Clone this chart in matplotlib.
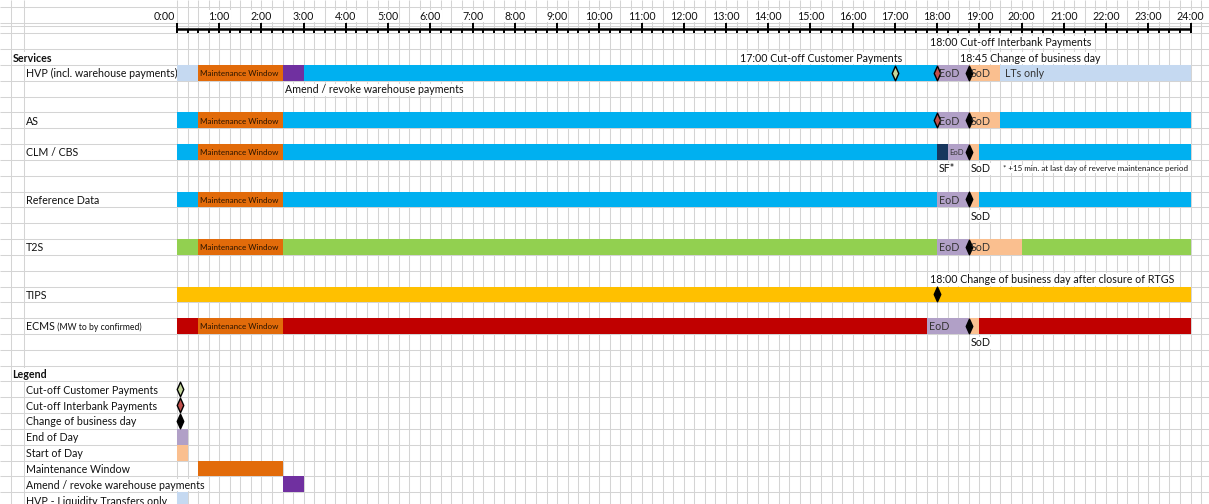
import matplotlib
matplotlib.use('Agg')
import matplotlib.pyplot as plt
from matplotlib.path import Path

plt.rcParams['font.family'] = ['Lato', 'DejaVu Sans']

# ---- data ----
hours = list(range(0, 25))
hour_labels = ['%d:00' % h for h in hours]

services = ['HVP (incl. warehouse payments)', 'AS', 'CLM / CBS', 'Reference Data',
            'T2S', 'TIPS', 'ECMS']

# (start hour, end hour, kind)
hvp_blocks = [(0, 0.5, 'lt'), (0.5, 2.5, 'mw'), (2.5, 3, 'amend'), (3, 18, 'rtgs'),
              (18, 18.75, 'eod'), (18.75, 19.5, 'sod'), (19.5, 24, 'lt')]
as_blocks = [(0, 0.5, 'rtgs'), (0.5, 2.5, 'mw'), (2.5, 18, 'rtgs'),
             (18, 18.75, 'eod'), (18.75, 19.5, 'sod'), (19.5, 24, 'rtgs')]
clm_blocks = [(0, 0.5, 'rtgs'), (0.5, 2.5, 'mw'), (2.5, 18, 'rtgs'), (18, 18.25, 'sf'),
              (18.25, 18.75, 'eod'), (18.75, 19, 'sod'), (19, 24, 'rtgs')]
ref_blocks = [(0, 0.5, 'rtgs'), (0.5, 2.5, 'mw'), (2.5, 18, 'rtgs'),
              (18, 18.75, 'eod'), (18.75, 19, 'sod'), (19, 24, 'rtgs')]
t2s_blocks = [(0, 0.5, 't2s'), (0.5, 2.5, 'mw'), (2.5, 18, 't2s'),
              (18, 18.75, 'eod'), (18.75, 20, 'sod'), (20, 24, 't2s')]
tips_blocks = [(0, 24, 'tips')]
ecms_blocks = [(0, 0.5, 'ecms'), (0.5, 2.5, 'mw'), (2.5, 17.75, 'ecms'),
               (17.75, 18.75, 'eod'), (18.75, 19, 'sod'), (19, 24, 'ecms')]
all_blocks = [hvp_blocks, as_blocks, clm_blocks, ref_blocks, t2s_blocks, tips_blocks, ecms_blocks]

# milestones (hour, kind)
hvp_marks = [(17, 'cust'), (18, 'ib'), (18.75, 'cbd')]
as_marks = [(18, 'ib'), (18.75, 'cbd')]
clm_marks = [(18.75, 'cbd')]
ref_marks = [(18.75, 'cbd')]
t2s_marks = [(18.75, 'cbd')]
tips_marks = [(18, 'cbd')]
ecms_marks = [(18.75, 'cbd')]
all_marks = [hvp_marks, as_marks, clm_marks, ref_marks, t2s_marks, tips_marks, ecms_marks]

legend_labels = ['Cut-off Customer Payments', 'Cut-off Interbank Payments',
                 'Change of business day', 'End of Day', 'Start of Day',
                 'Maintenance Window', 'Amend / revoke warehouse payments',
                 'HVP - Liquidity Transfers only']
legend_marks = ['cust', 'ib', 'cbd']
legend_blocks = [(0, 0.25, 'eod'), (0, 0.25, 'sod'), (0.5, 2.5, 'mw'),
                 (2.5, 3, 'amend'), (0, 0.25, 'lt')]

colors = {'rtgs': '#00b0f0', 'lt': '#c5d9f1', 'mw': '#e26b0a', 'amend': '#7030a0',
          'eod': '#b1a0c7', 'sod': '#fabf8f', 'sf': '#17375e', 't2s': '#92d050',
          'tips': '#ffc000', 'ecms': '#c00000'}
mark_fill = {'cust': '#c4d79b', 'ib': '#c0504d', 'cbd': 'black'}

# ---- sheet geometry (pixels of the 1209x504 sheet) ----
W, H = 1209, 504
PX0, PX24 = 177.0, 1190.5
PPH = (PX24 - PX0) / 24.0
ROW_TOP, RH = 49.2, 15.82


def ypx(p):
    return (p - ROW_TOP) / RH


def xpx(p):
    return (p - PX0) / PPH


service_rows = [1, 4, 6, 9, 12, 15, 17]
legend_row = 20

fig = plt.figure(figsize=(W / 100, H / 100), dpi=100)
ax = fig.add_axes([0, 0, 1, 1])
x_lo, x_hi = xpx(0), xpx(W)
y_top, y_bot = ypx(0), ypx(H)
ax.set_xlim(x_lo, x_hi)
ax.set_ylim(y_bot, y_top)
ax.axis('off')

grid = '#d4d4d4'
# vertical grid lines: 15 minute columns + the first two narrow columns
quarters = [q * 0.25 for q in range(0, 99)]
ax.vlines(quarters + [xpx(10.7), xpx(24.3)], y_top, y_bot, color=grid, lw=0.75, zorder=1)
# horizontal grid lines
ax.hlines([ypx(7.3), ypx(23.3), ypx(26.2)] + list(range(-1, 30)), x_lo, x_hi,
          color=grid, lw=0.75, zorder=1)

white = dict(facecolor='white', edgecolor='none', pad=0.5)
fs = 7.7
ink = '#111111'
ty = 0.56  # text centre inside a row (Excel puts text a bit low)

# time ruler
ax.hlines(ypx(29.5), 0, 24, color='black', lw=1.8, zorder=4)
ax.vlines(hours, ypx(23.5), ypx(33.5), color='black', lw=1.4, zorder=4)
ax.vlines([q * 0.25 for q in range(0, 97)], ypx(29.5), ypx(33.5), color='black', lw=1.4, zorder=4)
for h, lab in zip(hours, hour_labels):
    if h == 0:
        ax.text(xpx(175), ypx(16), lab, ha='right', va='center', fontsize=fs, color=ink,
                bbox=white, zorder=2)
    else:
        ax.text(h, ypx(16), lab, ha='center', va='center', fontsize=fs, color=ink,
                bbox=white, zorder=2)

diamond = Path([(0, 1), (0.45, 0), (0, -1), (-0.45, 0), (0, 1)],
               [Path.MOVETO, Path.LINETO, Path.LINETO, Path.LINETO, Path.CLOSEPOLY])


def draw_mark(x, row, kind):
    ax.plot([x], [row + 0.5], marker=diamond, markersize=10.5, color=mark_fill[kind],
            markeredgecolor='black', markeredgewidth=1.0, zorder=5, ls='none')


def draw_blocks(row, blocks):
    for s, e, kind in blocks:
        ax.barh(row, e - s, left=s, height=1, align='edge', color=colors[kind],
                lw=0, zorder=3)


def cell_text(x, row, s, ha='left', size=fs, color=ink, bg=True, z=2):
    ax.text(x, row + ty, s, ha=ha, va='center', fontsize=size, color=color,
            bbox=white if bg else None, zorder=z)


# services
lab_x = xpx(26)
ax.text(xpx(12.5), ty, 'Services', ha='left', va='center', fontsize=fs, color=ink,
        fontweight='bold', bbox=white, zorder=2)
for name, row, blocks, marks in zip(services, service_rows, all_blocks, all_marks):
    draw_blocks(row, blocks)
    for x, kind in marks:
        draw_mark(x, row, kind)
    if name == 'ECMS':
        t = ax.text(lab_x, row + ty, name, ha='left', va='center', fontsize=fs,
                    color=ink, zorder=2)
        ax.annotate(' (MW to by confirmed)', xycoords=t, xy=(1, 0.5), va='center',
                    fontsize=6.2, color=ink, zorder=2)
    else:
        cell_text(lab_x, row, name, bg=False)
    for s, e, kind in blocks:
        if kind == 'mw':
            cell_text(s + 0.05, row, 'Maintenance Window', size=5.8, color='#2a1400',
                      bg=False, z=6)

# texts in and around the bars
bar_text = '#333333'
for x, row, s in [(18.05, 1, 'EoD'), (18.8, 1, 'SoD'), (19.6, 1, 'LTs only'),
                  (18.05, 4, 'EoD'), (18.8, 4, 'SoD'), (18.05, 9, 'EoD'),
                  (18.05, 12, 'EoD'), (18.8, 12, 'SoD'), (17.8, 17, 'EoD')]:
    cell_text(x, row, s, color=bar_text, bg=False, z=6)
cell_text(18.28, 6, 'EoD', size=5.5, color=bar_text, bg=False, z=6)

cell_text(17.82, -1, '18:00 Cut-off Interbank Payments')
cell_text(17.18, 0, '17:00 Cut-off Customer Payments', ha='right')
cell_text(18.55, 0, '18:45 Change of business day')
cell_text(2.55, 2, 'Amend / revoke warehouse payments')
cell_text(18.03, 7, 'SF*')
cell_text(18.8, 7, 'SoD')
cell_text(19.55, 7, '* +15 min. at last day of reverve maintenance period', size=5.8)
cell_text(18.8, 10, 'SoD')
cell_text(17.82, 14, '18:00 Change of business day after closure of RTGS')
cell_text(18.8, 18, 'SoD')

# legend
ax.text(xpx(12.5), legend_row + ty, 'Legend', ha='left', va='center', fontsize=fs,
        color=ink, fontweight='bold', bbox=white, zorder=2)
for i, lab in enumerate(legend_labels):
    cell_text(lab_x, legend_row + 1 + i, lab)
for i, kind in enumerate(legend_marks):
    draw_mark(0.08, legend_row + 1 + i, kind)
for i, blk in enumerate(legend_blocks):
    draw_blocks(legend_row + 4 + i, [blk])

fig.savefig('out.png', dpi=100)
